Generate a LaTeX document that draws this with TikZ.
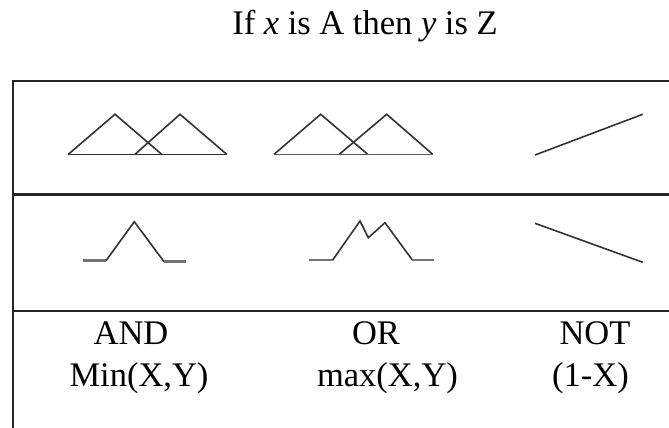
\documentclass[tikz,border=0pt]{standalone}
\usepackage{fontspec}
\setmainfont{Liberation Serif}
\begin{document}
\begin{tikzpicture}[x=1pt,y=-1pt,
  frame/.style={draw=black!85,line width=2.2pt},
  curve/.style={draw=black!80,line width=1.6pt,line join=miter},
  flat/.style={draw=black!55,line width=2.8pt},
  lab/.style={anchor=base,inner sep=0pt,font=\fontsize{34.5}{40}\selectfont}]
\useasboundingbox (0,0) rectangle (669,428);
% title
\node[lab] (title) at (365,35) {If \textit{x} is A then \textit{y} is Z};
% table frame
\draw[frame] (669,80.7) -- (13,80.7) -- (13,428);
\draw[frame] (13,194.5) -- (669,194.5);
\draw[frame] (13,310.7) -- (669,310.7);
% row 1: AND membership functions
\draw[curve] (68.3,154.3) -- (115,114.3) -- (161.7,154.3);
\draw[curve] (135,154.3) -- (180,114.3) -- (226.7,154.3);
\draw[curve] (68.3,154.3) -- (226.7,154.3);
% row 1: OR membership functions
\draw[curve] (274,154.3) -- (320.7,114.3) -- (367.7,154.3);
\draw[curve] (339.3,154.3) -- (386.7,114.3) -- (432.7,154.3);
\draw[curve,draw=black!65] (274,154.3) -- (432.7,154.3);
% row 1: NOT
\draw[curve] (535,155) -- (642.7,114.3);
% row 2: AND result
\draw[flat] (82.7,260.7) -- (106,260.7);
\draw[curve] (106,260.7) -- (134.3,221.7) -- (164,261.7);
\draw[flat] (164,261.7) -- (186,261.7);
% row 2: OR result
\draw[flat] (309.3,260) -- (332.7,260);
\draw[curve] (332.7,260) -- (360,221) -- (368.3,237.7) -- (385,222.7) -- (412.3,260);
\draw[flat] (412.3,260) -- (434,260);
% row 2: NOT result
\draw[curve] (535,223.3) -- (642.7,262.3);
% labels
\node[lab] (and) at (131,344) {AND};
\node[lab] (min) at (139,386) {Min(X,Y)};
\node[lab] (or) at (376,344) {OR};
\node[lab] (max) at (387.5,386) {max(X,Y)};
\node[lab] (not) at (595,344) {NOT};
\node[lab] (neg) at (590.5,386) {(1-X)};
\end{tikzpicture}
\end{document}
